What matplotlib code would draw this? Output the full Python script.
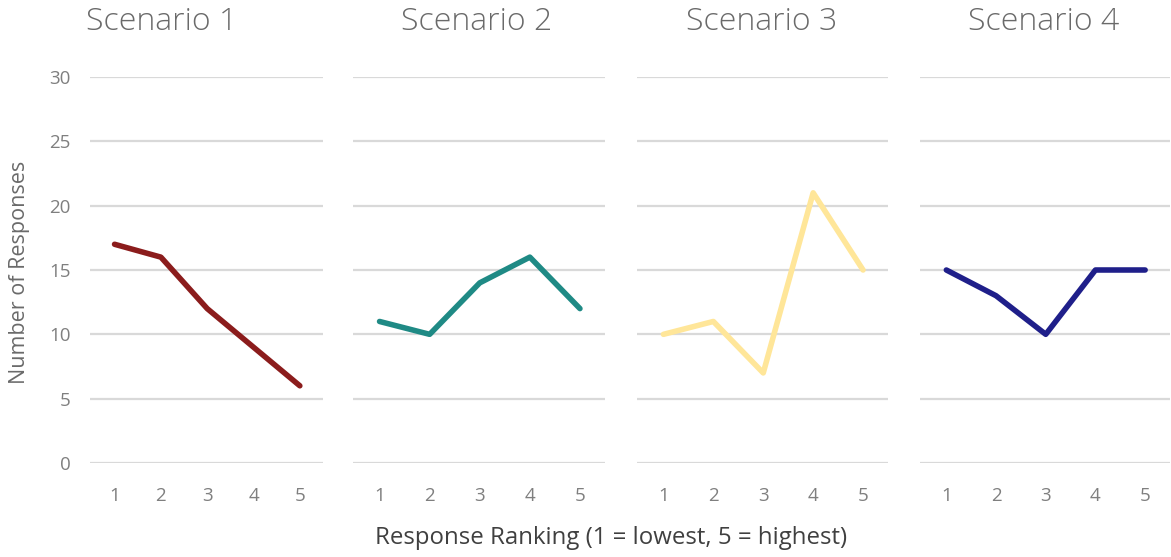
import matplotlib
matplotlib.use("Agg")
import matplotlib.pyplot as plt

plt.rcParams['font.family'] = ['Open Sans', 'DejaVu Sans']

rankings = [1, 2, 3, 4, 5]
scenarios = ["Scenario 1", "Scenario 2", "Scenario 3", "Scenario 4"]
scenario_1 = [17, 16, 12, 9, 6]
scenario_2 = [11, 10, 14, 16, 12]
scenario_3 = [10, 11, 7, 21, 15]
scenario_4 = [15, 13, 10, 15, 15]
y_ticks = [0, 5, 10, 15, 20, 25, 30]

series = [scenario_1, scenario_2, scenario_3, scenario_4]
colors = ["#8b1c1c", "#1f8a85", "#ffe699", "#1f1f8a"]

W, H = 1171, 557
fig = plt.figure(figsize=(W / 100, H / 100), dpi=100)

# axes placement in pixels (left, right) and title centres
panels = [(90, 323), (353, 605), (637, 888), (920, 1170)]
title_x = [162, 477, 762, 1044]
bottom = 1 - 463 / H
top = 1 - 77 / H

for i, ((x0, x1), name, vals, col) in enumerate(zip(panels, scenarios, series, colors)):
    ax = fig.add_axes([x0 / W, bottom, (x1 - x0) / W, top - bottom])
    ax.plot(rankings, vals, color=col, lw=4, solid_capstyle='round',
            solid_joinstyle='round', zorder=3, clip_on=False)
    ax.set_xlim(0.47, 5.5)
    ax.set_ylim(0, 30)
    ax.set_yticks(y_ticks)
    ax.set_xticks(rankings)
    ax.grid(axis='y', color='#d9d9d9', lw=1.6)
    ax.set_axisbelow(True)
    for s in ax.spines.values():
        s.set_visible(False)
    ax.tick_params(length=0, labelsize=13.5, labelcolor='#7f7f7f', pad=17)
    ax.tick_params(axis='y', pad=14)
    if i > 0:
        ax.set_yticklabels([])
    fig.text(title_x[i] / W, 1 - 22 / H, name, ha='center', va='center',
             fontsize=23, color='#6a6a6a', fontweight='light')

fig.text(20 / W, 1 - 272 / H, "Number of Responses", rotation=90,
         ha='center', va='center', fontsize=15.5, color='#6a6a6a')
fig.text(611 / W, 1 - 538 / H, "Response Ranking (1 = lowest, 5 = highest)",
         ha='center', va='center', fontsize=17.3, color='#404040')

fig.savefig("out.png", dpi=100)
